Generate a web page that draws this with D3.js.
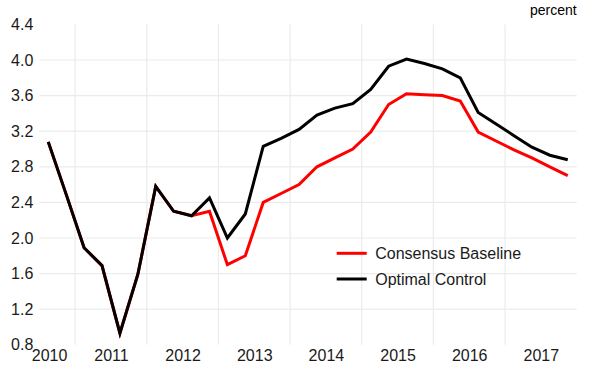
<!DOCTYPE html>
<html>
<head>
<meta charset="utf-8">
<script src="https://cdn.jsdelivr.net/npm/d3@7"></script>
<style>
  html, body { margin: 0; padding: 0; background: #fff; }
  svg { display: block; font-family: "Liberation Sans", Arial, sans-serif; }
</style>
</head>
<body>
<svg id="chart" width="592" height="373"></svg>
<script>
// Quarterly observations, 2010Q1 to 2017Q2
const quarters = [
  "2010Q1","2010Q2","2010Q3","2010Q4",
  "2011Q1","2011Q2","2011Q3","2011Q4",
  "2012Q1","2012Q2","2012Q3","2012Q4",
  "2013Q1","2013Q2","2013Q3","2013Q4",
  "2014Q1","2014Q2","2014Q3","2014Q4",
  "2015Q1","2015Q2","2015Q3","2015Q4",
  "2016Q1","2016Q2","2016Q3","2016Q4",
  "2017Q1","2017Q2"
];
const consensusBaseline = [
  3.08, 2.49, 1.89, 1.69, 0.93, 1.59, 2.58, 2.30,
  2.25, 2.30, 1.70, 1.80, 2.40, 2.50, 2.60, 2.80,
  2.90, 3.00, 3.19, 3.50, 3.62, 3.61, 3.60, 3.54,
  3.19, 3.09, 2.99, 2.90, 2.80, 2.70
];
const optimalControl = [
  3.08, 2.49, 1.89, 1.69, 0.93, 1.59, 2.58, 2.30,
  2.25, 2.45, 2.00, 2.27, 3.03, 3.12, 3.22, 3.38,
  3.46, 3.51, 3.67, 3.93, 4.01, 3.96, 3.90, 3.80,
  3.41, 3.28, 3.15, 3.02, 2.93, 2.88
];
const seriesNames = ["Consensus Baseline", "Optimal Control"];
const seriesColors = ["#ff0000", "#000000"];
const yTicks = [0.8, 1.2, 1.6, 2.0, 2.4, 2.8, 3.2, 3.6, 4.0, 4.4];
const yearLabels = [2010, 2011, 2012, 2013, 2014, 2015, 2016, 2017];
const unitLabel = "percent";

(function () {
  const svg = d3.select("#chart");
  const plotL = 39.3, plotR = 576.7, plotT = 24.4, plotB = 344.8;

  // quarter -> fractional year at the middle of the quarter
  const qTime = q => +q.slice(0, 4) + (+q.slice(5) - 1) * 0.25 + 0.125;

  const x = d3.scaleLinear().domain([2010, 2017.5]).range([plotL, plotR]);
  const y = d3.scaleLinear().domain([0.8, 4.4]).range([plotB, plotT]);

  const grid = "#ebebeb";

  // horizontal gridlines
  svg.append("g").selectAll("line")
    .data(yTicks.filter(v => v > 0.8 && v < 4.4))
    .join("line")
    .attr("x1", plotL).attr("x2", plotR)
    .attr("y1", d => y(d)).attr("y2", d => y(d))
    .attr("stroke", grid).attr("stroke-width", 1.2);

  // vertical gridlines at mid-year
  svg.append("g").selectAll("line")
    .data(yearLabels.map(yr => yr + 0.5).filter(t => t < 2017.5))
    .join("line")
    .attr("x1", d => x(d)).attr("x2", d => x(d))
    .attr("y1", plotT).attr("y2", plotB)
    .attr("stroke", grid).attr("stroke-width", 1.2);

  // y axis labels
  const yAxis = d3.axisLeft(y).tickValues(yTicks).tickSize(0).tickPadding(0)
    .tickFormat(d3.format(".1f"));
  const gy = svg.append("g").attr("transform", `translate(${plotL - 6},0)`).call(yAxis);
  gy.select(".domain").remove();
  gy.selectAll("text").attr("font-size", 16).attr("fill", "#1a1a1a")
    .attr("font-family", "Liberation Sans, Arial, sans-serif");

  // x axis labels at year starts
  const xAxis = d3.axisBottom(x).tickValues(yearLabels).tickSize(0).tickPadding(0)
    .tickFormat(d3.format("d"));
  const gx = svg.append("g").attr("transform", `translate(0,${plotB + 1})`).call(xAxis);
  gx.select(".domain").remove();
  gx.selectAll("text").attr("font-size", 16).attr("fill", "#1a1a1a")
    .attr("font-family", "Liberation Sans, Arial, sans-serif")
    .attr("dy", "0.95em");
  // keep the first year label inside the frame
  gx.selectAll(".tick").filter(d => d === yearLabels[0]).select("text")
    .attr("text-anchor", "start").attr("x", -8);

  // series lines
  const line = d3.line()
    .x((d, i) => x(qTime(quarters[i])))
    .y(d => y(d));

  [consensusBaseline, optimalControl].forEach((vals, k) => {
    svg.append("path")
      .datum(vals)
      .attr("d", line)
      .attr("fill", "none")
      .attr("stroke", seriesColors[k])
      .attr("stroke-width", 3)
      .attr("stroke-linejoin", "miter");
  });

  // legend
  const legend = svg.append("g").attr("transform", "translate(336.7,253.3)");
  seriesNames.forEach((name, k) => {
    const g = legend.append("g").attr("transform", `translate(0,${k * 25.7})`);
    g.append("line").attr("x1", 0).attr("x2", 30).attr("y1", 0).attr("y2", 0)
      .attr("stroke", seriesColors[k]).attr("stroke-width", 3);
    g.append("text").attr("x", 38.5).attr("y", 0).attr("dy", "0.35em")
      .attr("font-size", 16).attr("fill", "#1a1a1a").text(name);
  });

  // unit label
  svg.append("text")
    .attr("x", plotR).attr("y", 15)
    .attr("text-anchor", "end")
    .attr("font-size", 14).attr("fill", "#000")
    .text(unitLabel);
})();
</script>
</body>
</html>
